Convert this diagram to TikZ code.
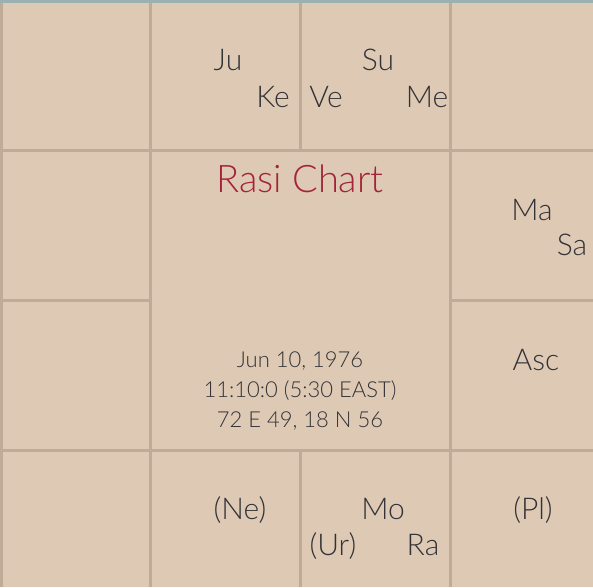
\documentclass[tikz,border=0pt]{standalone}
\usepackage{fontspec}
\setmainfont{Lato Light}
\definecolor{bg}{RGB}{222,202,180}
\definecolor{gridc}{RGB}{190,172,152}
\definecolor{topline}{RGB}{155,176,176}
\definecolor{txt}{RGB}{50,50,55}
\definecolor{titlec}{RGB}{163,36,56}
\begin{document}
\begin{tikzpicture}[x=1pt,y=-1pt,
  gl/.style={draw=gridc,line width=3pt},
  pl/.style={text=txt,font=\fontsize{30}{30}\selectfont,inner sep=0pt,anchor=base},
  info/.style={text=txt,font=\fontsize{22}{22}\selectfont,inner sep=0pt,anchor=base},
  ttl/.style={text=titlec,font=\fontsize{38}{38}\selectfont,inner sep=0pt,anchor=base}]
\fill[bg] (0,0) rectangle (593,587);
\useasboundingbox (0,0) rectangle (593,587);
% grid
\draw[gl] (1.5,0) -- (1.5,587);
\draw[gl] (150,0) -- (150,587);
\draw[gl] (450,0) -- (450,587);
\draw[gl] (300,0) -- (300,150);
\draw[gl] (300,450) -- (300,587);
\draw[gl] (0,150) -- (593,150);
\draw[gl] (0,450) -- (593,450);
\draw[gl] (0,300) -- (150,300);
\draw[gl] (450,300) -- (593,300);
\fill[topline] (0,0) rectangle (593,2.5);
% planets
\node[pl] (ju) at (228,70) {Ju};
\node[pl] (ke) at (273,107) {Ke};
\node[pl] (su) at (378,70) {Su};
\node[pl] (ve) at (326,107) {Ve};
\node[pl] (me) at (427,107) {Me};
\node[pl] (ma) at (532,220) {Ma};
\node[pl] (sa) at (572,255) {Sa};
\node[pl] (asc) at (536,370) {Asc};
\node[pl] (ne) at (240,519) {(Ne)};
\node[pl] (mo) at (383,519) {Mo};
\node[pl] (ur) at (333,555) {(Ur)};
\node[pl] (ra) at (423,555) {Ra};
\node[pl] (plu) at (533,519) {(Pl)};
% centre
\node[ttl] (title) at (300,192) {Rasi Chart};
\node[info] (d1) at (300,367) {Jun 10, 1976};
\node[info] (d2) at (300,397) {11:10:0 (5:30 EAST)};
\node[info] (d3) at (300,427) {72 E 49, 18 N 56};
\end{tikzpicture}
\end{document}
